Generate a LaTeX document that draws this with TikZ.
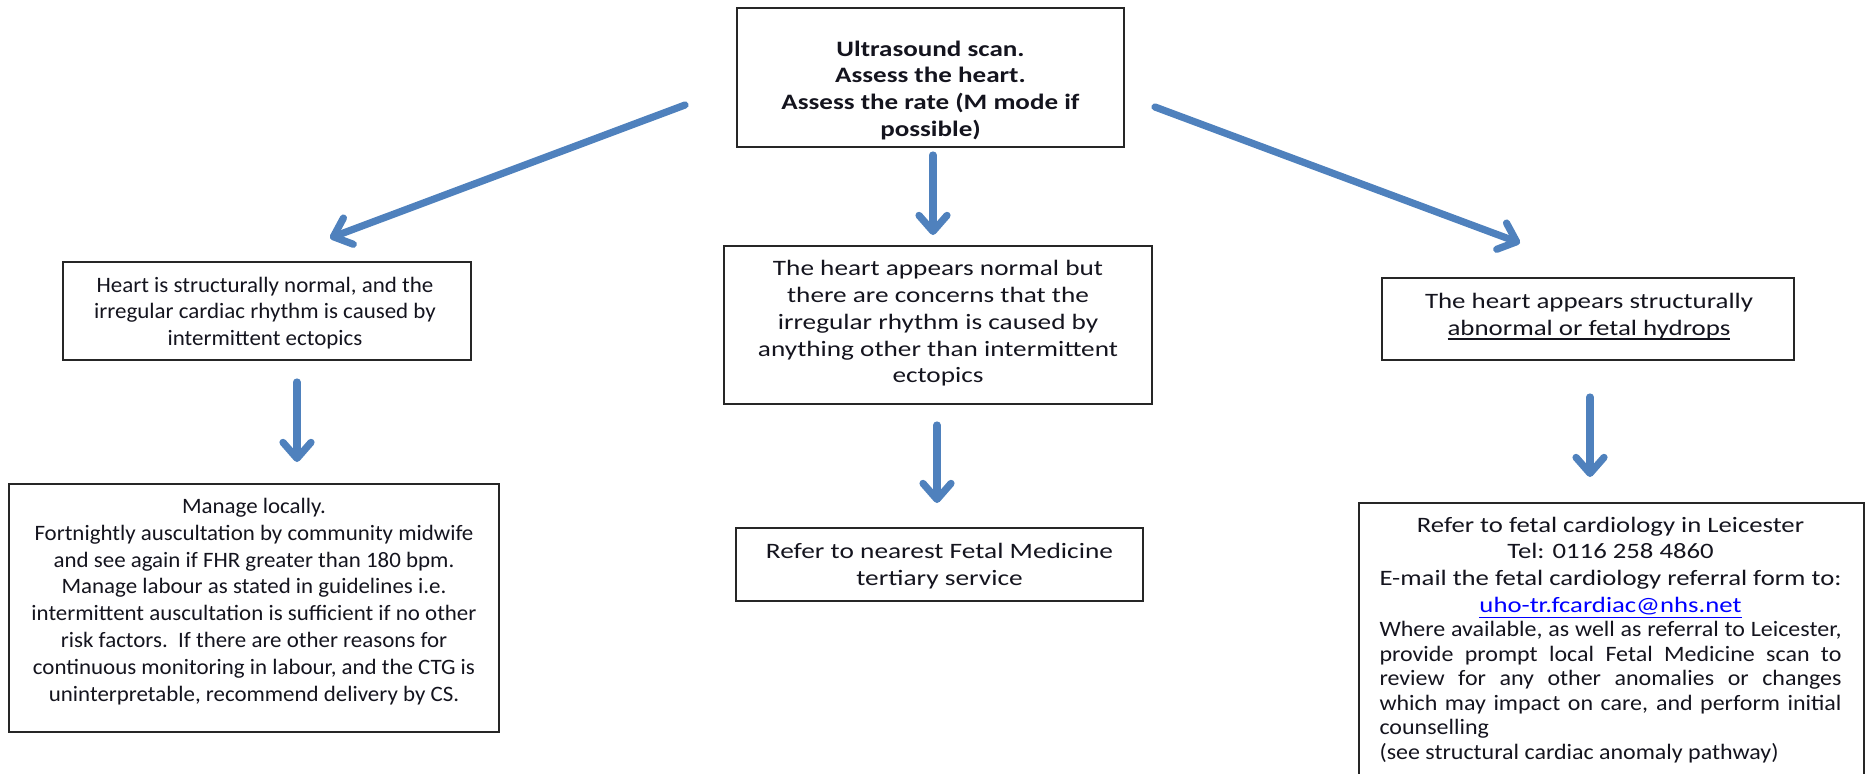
\documentclass[tikz,border=0pt]{standalone}
\usepackage{fontspec}
\usepackage{graphicx}
\setmainfont{Carlito}
\usetikzlibrary{arrows.meta}
\definecolor{flowblue}{RGB}{79,129,189}
\definecolor{linkblue}{RGB}{0,0,255}
\definecolor{inkdark}{RGB}{20,20,30}
% a centred block of lines, widened to a given width while keeping its height
\newcommand{\wideblock}[2]{\resizebox{#1}{\height}{\begin{tabular}{@{}c@{}}#2\end{tabular}}}
\newcommand{\wideleft}[2]{\resizebox{#1}{\height}{\begin{tabular}{@{}l@{}}#2\end{tabular}}}
% underline with a heavier rule
\newcommand{\heavyline}[1]{\setbox0\hbox{#1}\leavevmode\rlap{\rule[-2.2pt]{\wd0}{0.9pt}}\box0}
\begin{document}
\begin{tikzpicture}[x=0.5pt,y=-0.5pt,
  box/.style={draw=black!85, line width=1pt, inner sep=0pt},
  txt/.style={inner sep=0pt, text=inkdark,
              font=\fontsize{11pt}{13.4pt}\selectfont},
  flow/.style={draw=flowblue, line width=3.6pt, line cap=round,
    -{Straight Barb[length=8pt,width=14pt,line join=round,line cap=round]}}]
\useasboundingbox (0,0) rectangle (1874,773);
\clip (0,0) rectangle (1874,773);

% boxes
\node[box, minimum width=193.5pt, minimum height=69.5pt] (scan) at (930.5,77.5) {};
\node[box, minimum width=204pt, minimum height=49pt] (normal) at (267,311) {};
\node[box, minimum width=214pt, minimum height=79pt] (concern) at (938,325) {};
\node[box, minimum width=206pt, minimum height=41pt] (abnormal) at (1588,319) {};
\node[box, minimum width=245pt, minimum height=124pt] (local) at (254,608) {};
\node[box, minimum width=203.5pt, minimum height=36.5pt] (tertiary) at (939.5,564.5) {};
\node[box, minimum width=252.5pt, minimum height=148.5pt] (leicester) at (1611.5,651.5) {};

% texts
\node[txt, font=\fontsize{11pt}{13.4pt}\selectfont\bfseries] (scantxt) at (930.5,91)
  {\wideblock{149pt}{Ultrasound scan.\\Assess the heart.\\Assess the rate (M mode if\\possible)}};
\node[txt] (normaltxt) at (265,313.5)
  {\wideblock{170.8pt}{Heart is structurally normal, and the\\irregular cardiac rhythm is caused by\\intermittent ectopics}};
\node[txt] (concerntxt) at (938,324)
  {\wideblock{180pt}{The heart appears normal but\\there are concerns that the\\irregular rhythm is caused by\\anything other than intermittent\\ectopics}};
\node[txt] (abnormaltxt) at (1589,317)
  {\wideblock{164pt}{The heart appears structurally\\\heavyline{abnormal or fetal hydrops}}};
\node[txt] (localtxt) at (254,602)
  {\wideblock{222.5pt}{Manage locally.\\Fortnightly auscultation by community midwife\\and see again if FHR greater than 180 bpm.\\Manage labour as stated in guidelines i.e.\\intermittent auscultation is sufficient if no other\\risk factors.\ \ If there are other reasons for\\continuous monitoring in labour, and the CTG is\\uninterpretable, recommend delivery by CS.}};
\node[txt] (tertiarytxt) at (939.5,567)
  {\wideblock{173.5pt}{Refer to nearest Fetal Medicine\\tertiary service}};
\node[txt] (leicesterhead) at (1610.5,567)
  {\wideblock{231pt}{Refer to fetal cardiology in Leicester\\Tel: 0116 258 4860\\E-mail the fetal cardiology referral form to:\\\textcolor{linkblue}{\underline{uho-tr.fcardiac@nhs.net}}}};
\node[txt, font=\fontsize{11pt}{12.25pt}\selectfont] (leicesterbody) at (1610.5,693)
  {\wideleft{231pt}{\makebox[212pt][s]{Where available, as well as referral to Leicester,}\\
   \makebox[212pt][s]{provide prompt local Fetal Medicine scan to}\\
   \makebox[212pt][s]{review for any other anomalies or changes}\\
   \makebox[212pt][s]{which may impact on care, and perform initial}\\
   counselling\\
   (see structural cardiac anomaly pathway)}};

% arrow end points
\coordinate (a1s) at (685,105);  \coordinate (a1e) at (330,238);
\coordinate (a2s) at (933,155);  \coordinate (a2e) at (933,235);
\coordinate (a3s) at (1155,107); \coordinate (a3e) at (1520,243);
\coordinate (a4s) at (297,382);  \coordinate (a4e) at (297,462);
\coordinate (a5s) at (937,425);  \coordinate (a5e) at (937,503);
\coordinate (a6s) at (1590,397); \coordinate (a6e) at (1590,477);

% arrows
\draw[flow] (a1s) -- (a1e);
\draw[flow] (a2s) -- (a2e);
\draw[flow] (a3s) -- (a3e);
\draw[flow] (a4s) -- (a4e);
\draw[flow] (a5s) -- (a5e);
\draw[flow] (a6s) -- (a6e);
\end{tikzpicture}
\end{document}
